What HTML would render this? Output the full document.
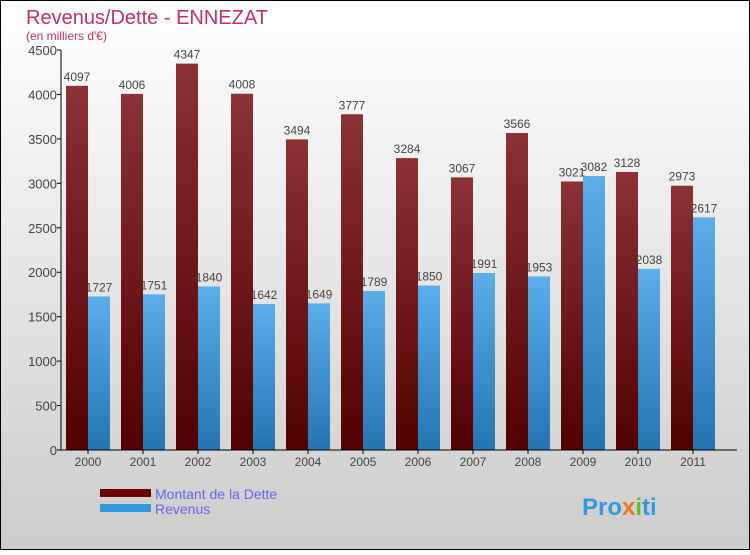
<!DOCTYPE html>
<html><head><meta charset="utf-8"><style>
body{margin:0;width:750px;height:550px;overflow:hidden;font-family:"Liberation Sans",sans-serif}
</style></head><body>
<svg width="750" height="550" xmlns="http://www.w3.org/2000/svg">
<defs>
<linearGradient id="bg" x1="0" y1="0" x2="0" y2="1"><stop offset="0" stop-color="#ffffff"/><stop offset="1" stop-color="#cccccc"/></linearGradient>
<linearGradient id="gd" x1="0" y1="0" x2="0" y2="1"><stop offset="0" stop-color="#8a3236"/><stop offset="1" stop-color="#520000"/></linearGradient>
<linearGradient id="gr" x1="0" y1="0" x2="0" y2="1"><stop offset="0" stop-color="#5aaeea"/><stop offset="1" stop-color="#2574b0"/></linearGradient>
</defs>
<rect x="0.5" y="0.5" width="749" height="549" fill="url(#bg)" stroke="#000"/>
<text x="26" y="24" font-size="20" fill="#c0306a">Revenus/Dette - ENNEZAT</text>
<text x="26" y="40" font-size="12" fill="#c0306a">(en milliers d'€)</text>
<g id="plot"></g>
<g>
<rect x="100" y="489" width="51" height="8" fill="#6a0000"/>
<text x="155" y="499" font-size="14" fill="#6666ee">Montant de la Dette</text>
<rect x="100" y="504" width="51" height="8" fill="#3399dd"/>
<text x="155" y="514" font-size="14" fill="#6666ee">Revenus</text>
</g>
<text x="582" y="515" font-size="24" font-weight="bold" fill="#3399dd">Pro<tspan fill="#ee7722">x</tspan><tspan fill="#66bb33">i</tspan>ti</text>
</svg>
<script>
const years=["2000","2001","2002","2003","2004","2005","2006","2007","2008","2009","2010","2011"];
const dette=[4097,4006,4347,4008,3494,3777,3284,3067,3566,3021,3128,2973];
const revenus=[1727,1751,1840,1642,1649,1789,1850,1991,1953,3082,2038,2617];
const yTicks=[0,500,1000,1500,2000,2500,3000,3500,4000,4500];
const NS="http://www.w3.org/2000/svg";
const g=document.getElementById('plot');
const y0=450,yTop=50,yMax=4500,x0=61,gw=55;
const y=v=>y0-(v/yMax)*(y0-yTop);
const xg=i=>x0+5+i*gw;
function el(t,a,txt){const e=document.createElementNS(NS,t);for(const k in a)e.setAttribute(k,a[k]);if(txt!==undefined)e.textContent=txt;g.appendChild(e);return e;}
yTicks.forEach(v=>{
 let l=el('line',{x1:x0-4,x2:x0,y1:y(v),y2:y(v),stroke:'#000'});
 
 
 let t=el('text',{x:x0-4,y:y(v)+5,'text-anchor':'end','font-size':13,fill:'#444'},v);
 
 
});
years.forEach((yr,i)=>{
 const x=xg(i);
 let b=el('rect',{x:x,y:y(dette[i]),width:22,height:y0-y(dette[i]),fill:'url(#gd)'});
 
 
 let r=el('rect',{x:x+22,y:y(revenus[i]),width:22,height:y0-y(revenus[i]),fill:'url(#gr)'});
 
 
 let t1=el('text',{x:x+11,y:y(dette[i])-5,'text-anchor':'middle','font-size':12,fill:'#444'},dette[i]);
 
 
 let t2=el('text',{x:x+33,y:y(revenus[i])-5,'text-anchor':'middle','font-size':12,fill:'#444'},revenus[i]);
 
 
 let tk=el('line',{x1:x+22,x2:x+22,y1:y0,y2:y0+4,stroke:'#000'});
 
 
 let xl=el('text',{x:x+22,y:y0+16,'text-anchor':'middle','font-size':12,fill:'#444'},yr);
 
 
});
let ya=el('line',{x1:x0,x2:x0,y1:yTop,y2:y0,stroke:'#000'});


let xa=el('line',{x1:x0,x2:737,y1:y0,y2:y0,stroke:'#000'});


</script>
</body></html>
